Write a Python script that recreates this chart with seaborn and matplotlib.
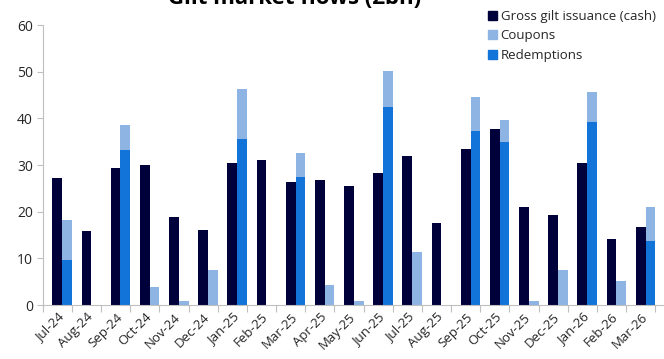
import numpy as np
import pandas as pd
import matplotlib
matplotlib.use('Agg')
import matplotlib.pyplot as plt
import seaborn as sns
from matplotlib.patches import Patch

## data (GBP bn)
months = ['Jul-24', 'Aug-24', 'Sep-24', 'Oct-24', 'Nov-24', 'Dec-24', 'Jan-25',
          'Feb-25', 'Mar-25', 'Apr-25', 'May-25', 'Jun-25', 'Jul-25', 'Aug-25',
          'Sep-25', 'Oct-25', 'Nov-25', 'Dec-25', 'Jan-26', 'Feb-26', 'Mar-26']
gross = [27.2, 15.9, 29.3, 30.0, 18.9, 16.1, 30.4, 31.1, 26.4, 26.7, 25.6,
         28.2, 32.0, 17.5, 33.4, 37.7, 21.1, 19.4, 30.4, 14.2, 16.7]
redemptions = [9.6, 0, 33.3, 0, 0, 0, 35.5, 0, 27.5, 0, 0,
               42.5, 0, 0, 37.3, 35.0, 0, 0, 39.3, 0, 13.8]
coupons = [8.7, 0, 5.3, 3.9, 0.9, 7.6, 10.8, 0, 5.0, 4.2, 0.9,
           7.7, 11.3, 0, 7.3, 4.6, 0.9, 7.6, 6.4, 5.2, 7.2]

c_gross = '#00003a'
c_coup = '#8db4e3'
c_red = '#1273d8'

sns.set_theme(style='white')
plt.rcParams['font.family'] = ['Open Sans', 'DejaVu Sans']

total = [r + c for r, c in zip(redemptions, coupons)]
df_top = pd.DataFrame({'month': months * 2,
                       'series': ['Gross'] * len(months) + ['Flow'] * len(months),
                       'value': gross + total})
df_red = pd.DataFrame({'month': months * 2,
                       'series': ['Gross'] * len(months) + ['Flow'] * len(months),
                       'value': [0] * len(months) + redemptions})

fig = plt.figure(figsize=(6.64, 3.59), dpi=100)
ax = fig.add_axes([0.0643, 0.1504, 0.9357, 0.7796])

sns.barplot(data=df_top, x='month', y='value', hue='series', hue_order=['Gross', 'Flow'],
            palette=[c_gross, c_coup], width=0.667, saturation=1, linewidth=0,
            legend=False, ax=ax)
sns.barplot(data=df_red, x='month', y='value', hue='series', hue_order=['Gross', 'Flow'],
            palette=[c_gross, c_red], width=0.667, saturation=1, linewidth=0,
            legend=False, ax=ax)

n = len(months)
ax.set_xlim(-0.667, n - 0.667 + 0.3)
ax.set_ylim(0, 60)
ax.set_yticks(range(0, 61, 10))
ax.set_xticks(np.arange(n) - 0.167)
ax.set_xticklabels(months, rotation=45, ha='right', rotation_mode='anchor', fontsize=9.5)
ax.set_xticks(np.arange(n + 1) - 0.667, minor=True)
ax.tick_params(axis='x', which='major', length=0, pad=4)
ax.tick_params(axis='x', which='minor', length=5, color='#bfbfbf', width=0.8, bottom=True)
ax.tick_params(axis='y', length=4, color='#bfbfbf', width=0.8, left=True, labelsize=10, pad=3)
ax.set_xlabel('')
ax.set_ylabel('')
for s in ['top', 'right']:
    ax.spines[s].set_visible(False)
for s in ['left', 'bottom']:
    ax.spines[s].set_color('#bfbfbf')
    ax.spines[s].set_linewidth(0.8)

# title is cut off at the top edge, as in the reference
fig.text(0.444, 0.989, 'Gilt market flows (£bn)', ha='center', va='baseline',
         fontsize=16, fontweight='bold', color='black')

handles = [Patch(color=c_gross, label='Gross gilt issuance (cash)'),
           Patch(color=c_coup, label='Coupons'),
           Patch(color=c_red, label='Redemptions')]
fig.legend(handles=handles, loc='upper left', bbox_to_anchor=(0.72, 1.0),
           frameon=False, fontsize=9.5, handlelength=0.65, handleheight=0.65,
           handletextpad=0.3, labelspacing=0.5, borderpad=0.25)

fig.savefig('out.png', dpi=100)
